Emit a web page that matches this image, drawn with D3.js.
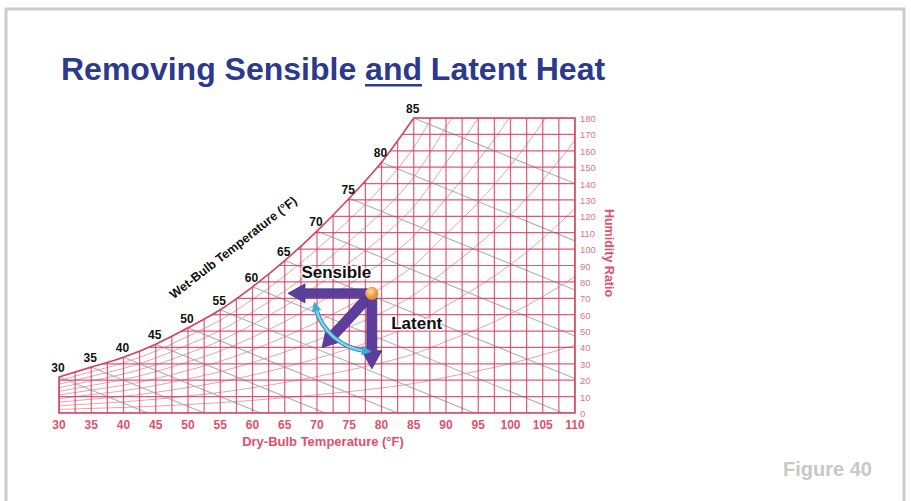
<!DOCTYPE html>
<html>
<head>
<meta charset="utf-8">
<script src="https://cdn.jsdelivr.net/npm/d3@7"></script>
<style>
  html, body { margin: 0; padding: 0; background: #fff; }
  svg { display: block; font-family: 'Liberation Sans', Arial, sans-serif; }
</style>
</head>
<body>
<svg id="chart" width="911" height="501"></svg>
<script>
'use strict';

// dry-bulb axis (°F) and humidity ratio axis (grains / lb dry air)
const DRY_BULB_TICKS = [30, 35, 40, 45, 50, 55, 60, 65, 70, 75, 80, 85, 90, 95, 100, 105, 110];
const HUMIDITY_TICKS = [0, 10, 20, 30, 40, 50, 60, 70, 80, 90, 100, 110, 120, 130, 140, 150, 160, 170, 180];

// saturation curve (wet-bulb labels sit on it)
const SAT_TEMPS = [30, 35, 40, 45, 50, 55, 60, 65, 70, 75, 80, 85];
const SAT_HUMIDITY = [22, 28, 34, 42, 52, 63, 77, 93, 111, 131, 153, 180];
// saturation above the top of the chart, only used by the humidity curves
const SAT_TEMPS_HIGH = [90, 95, 100, 105, 110];
const SAT_HUMIDITY_HIGH = [218, 257, 302, 355, 416];

const RH_LEVELS = [0.1, 0.2, 0.3, 0.4, 0.5, 0.6, 0.7, 0.8, 0.9];
const WET_BULB_SLOPE = -1.6; // grains per °F along a wet-bulb line

// process arrows [dry-bulb, humidity]
const STATE_POINT = [78.5, 73];
const SENSIBLE_END = [65.5, 73];
const LATENT_END = [78.5, 27];
const COMBINED_END = [70.8, 40];

const RED = '#d8405f';
const PURPLE = '#5c3f9c';

const svg = d3.select('#chart');

const x = d3.scaleLinear().domain([30, 110]).range([59, 575]);
const y = d3.scaleLinear().domain([0, 180]).range([413, 118]);

// page frame
svg.append('path')
  .attr('d', 'M6,501 V9 H904 V501')
  .attr('fill', 'none')
  .attr('stroke', '#cccccc')
  .attr('stroke-width', 3);

// title
const title = svg.append('text')
  .attr('x', 61)
  .attr('y', 80)
  .attr('fill', '#2b3a8c')
  .attr('font-size', 32)
  .attr('font-weight', 'bold');
title.append('tspan').text('Removing Sensible ');
title.append('tspan').text('and');
title.append('tspan').text(' Latent Heat');
const titleNode = title.node();
const andStart = titleNode.getStartPositionOfChar(18).x;
const andWidth = titleNode.getSubStringLength(18, 3);
svg.append('rect')
  .attr('x', andStart)
  .attr('y', 84)
  .attr('width', andWidth)
  .attr('height', 2.5)
  .attr('fill', '#2b3a8c');

svg.append('text')
  .attr('x', 872)
  .attr('y', 476)
  .attr('text-anchor', 'end')
  .attr('fill', '#c8c8c8')
  .attr('font-size', 20)
  .attr('font-weight', 'bold')
  .text('Figure 40');

// chart
const satPoints = SAT_TEMPS.map((t, i) => [t, SAT_HUMIDITY[i]]);
const satAll = satPoints.concat(SAT_TEMPS_HIGH.map((t, i) => [t, SAT_HUMIDITY_HIGH[i]]));

const line = d3.line()
  .x((d) => x(d[0]))
  .y((d) => y(d[1]));
const satLine = d3.line()
  .x((d) => x(d[0]))
  .y((d) => y(d[1]))
  .curve(d3.curveMonotoneX);

const satPath = satLine(satPoints);
const clipPath = satPath +
  `L${x(110)},${y(180)}L${x(110)},${y(0)}L${x(30)},${y(0)}Z`;

svg.append('defs')
  .append('clipPath')
  .attr('id', 'chart-clip')
  .append('path')
  .attr('d', clipPath);

const inner = svg.append('g').attr('clip-path', 'url(#chart-clip)');

// relative humidity curves
inner.append('g')
  .selectAll('path')
  .data(RH_LEVELS)
  .enter()
  .append('path')
  .attr('d', (rh) => satLine(satAll.map((d) => [d[0], d[1] * rh])))
  .attr('fill', 'none')
  .attr('stroke', '#eba0b0')
  .attr('stroke-width', 1);

// wet-bulb lines
inner.append('g')
  .selectAll('path')
  .data(satPoints)
  .enter()
  .append('path')
  .attr('d', (d) => line([d, [110, d[1] + WET_BULB_SLOPE * (110 - d[0])]]))
  .attr('fill', 'none')
  .attr('stroke', '#aab0c0')
  .attr('stroke-width', 1.1);

// grid
inner.append('g')
  .selectAll('line')
  .data(d3.range(30, 110.01, 2.5))
  .enter()
  .append('line')
  .attr('x1', (d) => x(d))
  .attr('x2', (d) => x(d))
  .attr('y1', y(0))
  .attr('y2', y(180))
  .attr('stroke', RED)
  .attr('stroke-width', 1.2)
  .attr('opacity', 0.85);

inner.append('g')
  .selectAll('line')
  .data(HUMIDITY_TICKS)
  .enter()
  .append('line')
  .attr('x1', x(30))
  .attr('x2', x(110))
  .attr('y1', (d) => y(d))
  .attr('y2', (d) => y(d))
  .attr('stroke', RED)
  .attr('stroke-width', 1.2)
  .attr('opacity', 0.85);

// outline: saturation curve, top, right and bottom edges
svg.append('path')
  .attr('d', satPath + `L${x(110)},${y(180)}L${x(110)},${y(0)}L${x(30)},${y(0)}Z`)
  .attr('fill', 'none')
  .attr('stroke', RED)
  .attr('stroke-width', 1.6);

// bottom axis labels
svg.append('g')
  .selectAll('text')
  .data(DRY_BULB_TICKS)
  .enter()
  .append('text')
  .attr('x', (d) => x(d))
  .attr('y', y(0) + 16)
  .attr('text-anchor', 'middle')
  .attr('fill', '#e0506c')
  .attr('font-size', 12)
  .attr('font-weight', 'bold')
  .text((d) => d);

svg.append('text')
  .attr('x', 323)
  .attr('y', 446)
  .attr('text-anchor', 'middle')
  .attr('fill', '#e0506c')
  .attr('font-size', 13)
  .attr('font-weight', 'bold')
  .text('Dry-Bulb Temperature (°F)');

// right axis labels
svg.append('g')
  .selectAll('text')
  .data(HUMIDITY_TICKS)
  .enter()
  .append('text')
  .attr('x', x(110) + 5)
  .attr('y', (d) => y(d) + 4)
  .attr('fill', '#e2728c')
  .attr('font-size', 9.5)
  .text((d) => d);

svg.append('text')
  .attr('transform', 'translate(605,253) rotate(90)')
  .attr('text-anchor', 'middle')
  .attr('fill', '#e0506c')
  .attr('font-size', 12.5)
  .attr('font-weight', 'bold')
  .text('Humidity Ratio');

// wet-bulb labels just above the saturation curve
svg.append('g')
  .selectAll('text')
  .data(satPoints)
  .enter()
  .append('text')
  .attr('x', (d) => x(d[0]) - 1)
  .attr('y', (d) => y(d[1]) - 9)
  .attr('dy', '0.35em')
  .attr('text-anchor', 'middle')
  .attr('fill', '#111')
  .attr('font-size', 12)
  .attr('font-weight', 'bold')
  .text((d) => d[0]);

svg.append('text')
  .attr('transform', `translate(${x(57)},${y(101)}) rotate(-38)`)
  .attr('text-anchor', 'middle')
  .attr('dy', '0.35em')
  .attr('fill', '#111')
  .attr('font-size', 12.5)
  .attr('font-weight', 'bold')
  .text('Wet-Bulb Temperature (°F)');

// process arrows
function blockArrow(from, to, shaft, headW, headL) {
  const x0 = x(from[0]), y0 = y(from[1]);
  const x1 = x(to[0]), y1 = y(to[1]);
  const len = Math.hypot(x1 - x0, y1 - y0);
  const ux = (x1 - x0) / len, uy = (y1 - y0) / len;
  const px = -uy, py = ux;
  const bx = x1 - ux * headL, by = y1 - uy * headL;
  const pts = [
    [x0 + px * shaft / 2, y0 + py * shaft / 2],
    [bx + px * shaft / 2, by + py * shaft / 2],
    [bx + px * headW / 2, by + py * headW / 2],
    [x1, y1],
    [bx - px * headW / 2, by - py * headW / 2],
    [bx - px * shaft / 2, by - py * shaft / 2],
    [x0 - px * shaft / 2, y0 - py * shaft / 2],
  ];
  return 'M' + pts.map((p) => p.join(',')).join('L') + 'Z';
}

const arrows = svg.append('g');
[
  [COMBINED_END, 10, 20, 17],
  [SENSIBLE_END, 9, 19, 17],
  [LATENT_END, 10, 20, 18],
].forEach(([end, shaft, headW, headL]) => {
  arrows.append('path')
    .attr('d', blockArrow(STATE_POINT, end, shaft, headW, headL))
    .attr('fill', PURPLE)
    .attr('stroke', '#4a2e85')
    .attr('stroke-width', 0.8);
});

// curved double-headed arrow between sensible and latent
const defs = svg.select('defs');
defs.append('marker')
  .attr('id', 'cyan-head')
  .attr('viewBox', '0 0 10 10')
  .attr('refX', 3)
  .attr('refY', 5)
  .attr('markerWidth', 10)
  .attr('markerHeight', 10)
  .attr('markerUnits', 'userSpaceOnUse')
  .attr('orient', 'auto-start-reverse')
  .append('path')
  .attr('d', 'M0,0L10,5L0,10Z')
  .attr('fill', '#3aaed6');

const cx = x(STATE_POINT[0]);
const cy = y(STATE_POINT[1]);
const arc = d3.path();
const a0 = (165 * Math.PI) / 180;
const a1 = (97 * Math.PI) / 180;
arc.moveTo(cx + 58 * Math.cos(a0), cy + 58 * Math.sin(a0));
arc.arc(cx, cy, 58, a0, a1, true);

svg.append('path')
  .attr('d', arc.toString())
  .attr('fill', 'none')
  .attr('stroke', '#2f86b8')
  .attr('stroke-width', 4.5);
svg.append('path')
  .attr('d', arc.toString())
  .attr('fill', 'none')
  .attr('stroke', '#7fd6ee')
  .attr('stroke-width', 2.5)
  .attr('marker-start', 'url(#cyan-head)')
  .attr('marker-end', 'url(#cyan-head)');

// state point
const grad = defs.append('radialGradient')
  .attr('id', 'dot-grad')
  .attr('cx', '40%')
  .attr('cy', '35%');
grad.append('stop').attr('offset', '0%').attr('stop-color', '#ffd9a0');
grad.append('stop').attr('offset', '100%').attr('stop-color', '#e8952e');

svg.append('circle')
  .attr('cx', cx)
  .attr('cy', cy)
  .attr('r', 6.5)
  .attr('fill', 'url(#dot-grad)');

// process labels
[
  ['Sensible', 73, 86, 'middle'],
  ['Latent', 81.5, 55, 'start'],
].forEach(([label, t, w, anchor]) => {
  svg.append('text')
    .attr('x', x(t))
    .attr('y', y(w))
    .attr('dy', '0.35em')
    .attr('text-anchor', anchor)
    .attr('fill', '#111')
    .attr('stroke', '#fff')
    .attr('stroke-width', 3)
    .attr('stroke-opacity', 0.8)
    .attr('paint-order', 'stroke')
    .attr('font-size', 17)
    .attr('font-weight', 'bold')
    .text(label);
});
</script>
</body>
</html>
